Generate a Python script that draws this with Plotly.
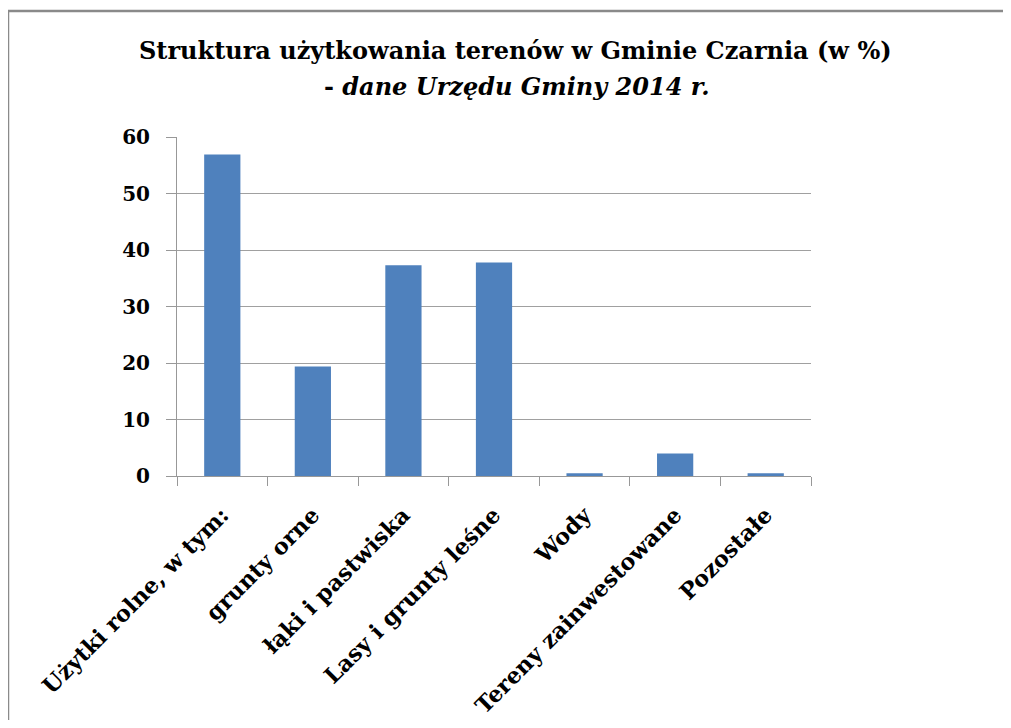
import plotly.graph_objects as go

categories = ["Użytki rolne, w tym:", "grunty orne", "łąki i pastwiska",
              "Lasy i grunty leśne", "Wody", "Tereny zainwestowane", "Pozostałe"]
values = [56.9, 19.4, 37.3, 37.8, 0.5, 4.0, 0.5]
y_ticks = [0, 10, 20, 30, 40, 50, 60]

title_line1 = "Struktura użytkowania terenów w Gminie Czarnia (w %)"
title_line2 = "- <i>dane Urzędu Gminy 2014 r.</i>"

FONT = "DejaVu Serif"

# page has an 8px body margin; work in figure coordinates = page - 8
OFF = 8
W, H = 1011 - 2 * OFF, 728 - 2 * OFF
L, T = 177 - OFF, 137 - OFF
pw, ph = 634, 339
R, B = W - L - pw, H - T - ph

def px_x(px):
    return (px - OFF - L) / pw

def px_y(py):
    return (T + ph - (py - OFF)) / ph

fig = go.Figure()
fig.add_trace(go.Bar(
    x=categories, y=values,
    marker=dict(color="#4F81BD", line=dict(width=0)),
    width=0.4,
))

fig.update_layout(
    width=W, height=H,
    margin=dict(l=L, r=R, t=T, b=B, autoexpand=False),
    paper_bgcolor="white", plot_bgcolor="white",
    showlegend=False,
    font=dict(family=FONT, color="black"),
    xaxis=dict(
        type="category",
        showline=True, linecolor="#989898", linewidth=1,
        ticks="outside", ticklen=9, tickcolor="#989898", tickwidth=1,
        tickson="boundaries",
        tickangle=-45,
        ticklabelstandoff=16,
        tickfont=dict(family=FONT, size=22.5, color="black", weight="bold"),
        showgrid=False,
        range=[-0.5, 6.5],
    ),
    yaxis=dict(
        range=[0, 60],
        tickvals=y_ticks,
        showline=True, linecolor="#989898", linewidth=1,
        ticks="outside", ticklen=10, tickcolor="#989898", tickwidth=1,
        ticklabelstandoff=12,
        tickfont=dict(family=FONT, size=20, color="black", weight="bold"),
        showgrid=True, gridcolor="#a0a0a0", gridwidth=1,
        zeroline=False,
    ),
    annotations=[
        dict(text="<b>" + title_line1 + "</b>", xref="paper", yref="paper",
             x=px_x(515), y=px_y(50), xanchor="center", yanchor="middle",
             showarrow=False, font=dict(family=FONT, size=24, color="black")),
        dict(text="<b>" + title_line2 + "</b>", xref="paper", yref="paper",
             x=px_x(517), y=px_y(87), xanchor="center", yanchor="middle",
             showarrow=False, font=dict(family=FONT, size=24, color="black")),
    ],
    shapes=[
        dict(type="line", xref="paper", yref="paper",
             x0=px_x(8), x1=px_x(1060), y0=px_y(11), y1=px_y(11),
             line=dict(color="#8a8a8a", width=2.5), layer="below"),
        dict(type="line", xref="paper", yref="paper",
             x0=px_x(8), x1=px_x(8), y0=px_y(11), y1=px_y(800),
             line=dict(color="#8a8a8a", width=2.5), layer="below"),
    ],
)

fig.write_html("out.html")
